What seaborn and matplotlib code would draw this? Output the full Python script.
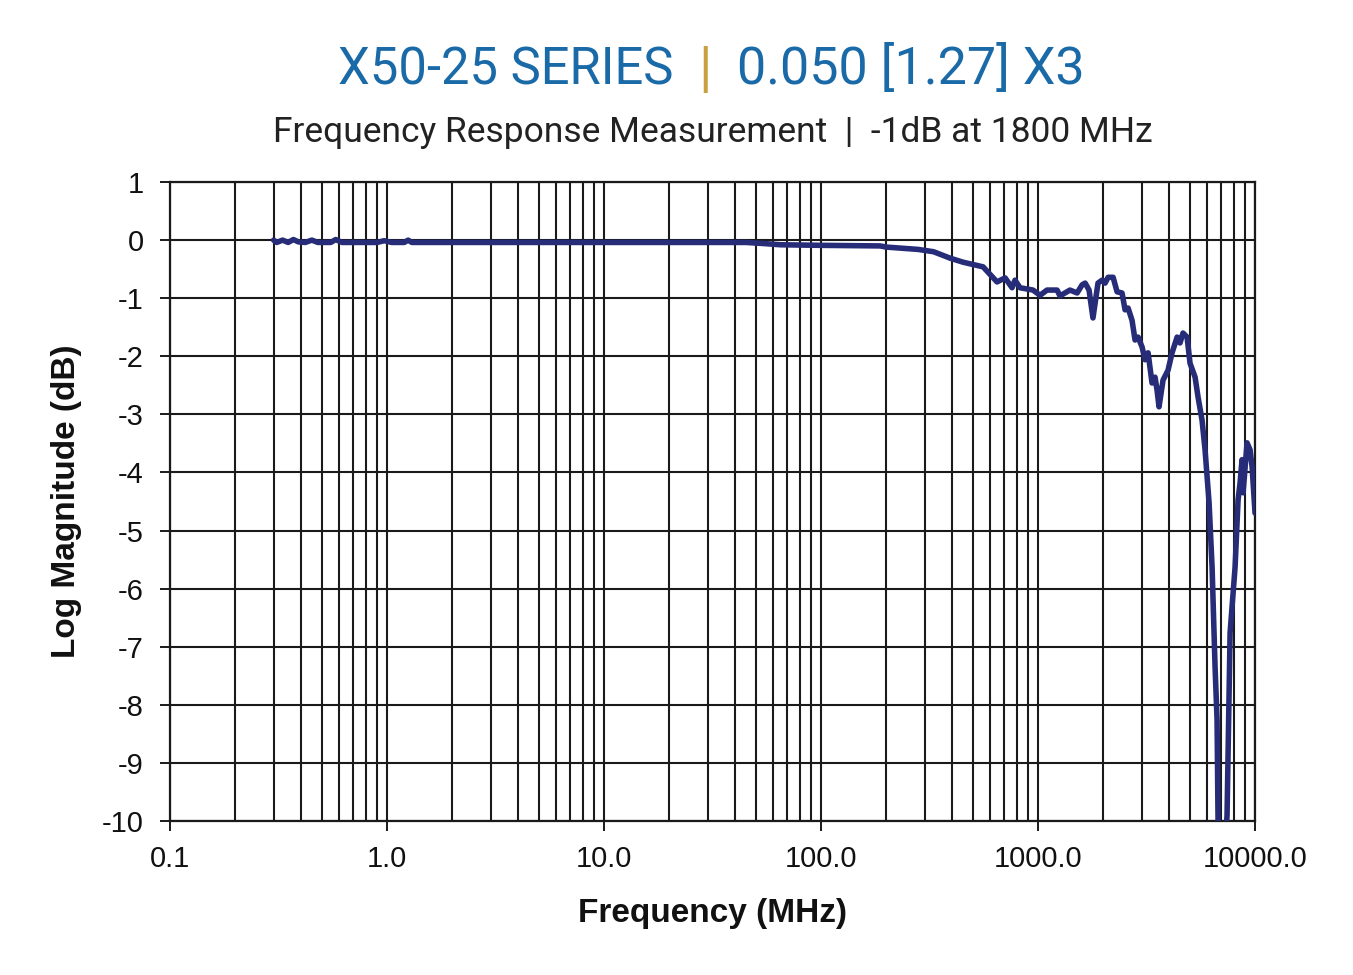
import numpy as np
import pandas as pd
import matplotlib
matplotlib.use('Agg')
import matplotlib.pyplot as plt
import seaborn as sns
from matplotlib.ticker import FixedLocator, LogLocator, NullFormatter

# frequency in MHz, magnitude in dB
freq_mhz = [0.30, 0.31, 0.33, 0.35, 0.37, 0.39, 0.42, 0.45, 0.48, 0.55, 0.58, 0.62,
            0.90, 0.97, 1.05, 1.20, 1.25, 1.30, 2.0, 10.0, 45.0, 55.0, 65.0, 100.0,
            187.0, 200.0, 280.0, 330.0, 393.0, 451.0, 558.0, 647.0, 705.0, 759.0,
            783.0, 826.0, 948.0, 1021.0, 1100.0, 1224.0, 1262.0, 1403.0, 1514.0,
            1596.0, 1648.0, 1718.0, 1791.0, 1889.0, 1972.0, 2037.0, 2103.0, 2218.0,
            2313.0, 2438.0, 2518.0, 2600.0, 2711.0, 2799.0, 2891.0, 3015.0, 3113.0,
            3214.0, 3352.0, 3461.0, 3534.0, 3610.0, 3767.0, 3972.0, 4146.0, 4374.0,
            4511.0, 4656.0, 4862.0, 5017.0, 5293.0, 5461.0, 5699.0, 5883.0, 6140.0,
            6339.0, 6543.0, 6683.0, 6752.0, 7046.0, 7275.0, 7430.0, 7674.0, 8091.0,
            8353.0, 8531.0, 8712.0, 8810.0, 9188.0, 9484.0, 9690.0, 10000.0]
mag_db = [0.00, -0.04, 0.00, -0.04, 0.01, -0.03, -0.04, 0.00, -0.04, -0.04, 0.01, -0.04,
          -0.04, -0.01, -0.04, -0.04, 0.00, -0.04, -0.04, -0.04, -0.04, -0.06, -0.08, -0.09,
          -0.10, -0.12, -0.16, -0.20, -0.31, -0.38, -0.46, -0.72, -0.65, -0.82,
          -0.69, -0.82, -0.86, -0.95, -0.86, -0.86, -0.96, -0.86, -0.91,
          -0.77, -0.74, -0.86, -1.34, -0.74, -0.69, -0.74, -0.64, -0.64,
          -0.89, -0.91, -1.20, -1.17, -1.38, -1.72, -1.67, -1.84, -2.06,
          -1.94, -2.46, -2.36, -2.58, -2.87, -2.41, -2.24, -1.94, -1.67,
          -1.77, -1.60, -1.67, -2.12, -2.36, -2.70, -3.10, -3.61, -4.52,
          -5.63, -7.35, -8.26, -9.98, -11.0, -10.5, -9.9, -6.76, -5.63,
          -4.47, -4.18, -3.78, -4.35, -3.49, -3.61, -3.90, -4.70]

x_ticks = [0.1, 1, 10, 100, 1000, 10000]
x_tick_labels = ['0.1', '1.0', '10.0', '100.0', '1000.0', '10000.0']
y_ticks = list(range(1, -11, -1))
y_tick_labels = [str(v) for v in y_ticks]

sns.set_theme(style='white')
plt.rcParams['font.family'] = ['Liberation Sans', 'DejaVu Sans']
plt.rcParams['axes.unicode_minus'] = False

df = pd.DataFrame({'freq': freq_mhz, 'mag': mag_db})

fig = plt.figure(figsize=(13.53, 9.75), dpi=100)
ax = fig.add_axes([0.1257, 0.158, 0.8019, 0.6553])

sns.lineplot(data=df, x='freq', y='mag', ax=ax, color='#272c78', linewidth=4,
             sort=False, estimator=None, zorder=5)

ax.set_xscale('log')
ax.set_xlim(0.1, 10000)
ax.set_ylim(-10, 1)
ax.xaxis.set_major_locator(FixedLocator(x_ticks))
ax.set_xticklabels(x_tick_labels)
ax.xaxis.set_minor_locator(LogLocator(base=10, subs=np.arange(2, 10)))
ax.xaxis.set_minor_formatter(NullFormatter())
ax.set_yticks(y_ticks)
ax.set_yticklabels(y_tick_labels)

grid_kw = dict(color='#1a1a1a', linewidth=1.5)
ax.grid(True, which='major', axis='both', **grid_kw)
ax.grid(True, which='minor', axis='x', **grid_kw)
for s in ax.spines.values():
    s.set_color('#1a1a1a')
    s.set_linewidth(1.6)

ax.tick_params(axis='both', which='major', direction='out', length=7, width=1.4,
               color='#1a1a1a', labelsize=21, labelcolor='#111111', left=True, bottom=True)
ax.tick_params(axis='y', pad=12)
ax.tick_params(axis='x', pad=10)
ax.tick_params(axis='x', which='minor', bottom=False)

ax.set_xlabel('Frequency (MHz)', fontsize=24, fontweight='bold', color='#111111', labelpad=18)
ax.set_ylabel('Log Magnitude (dB)', fontsize=24, fontweight='bold', color='#111111', labelpad=14)

narrow = ['Liberation Sans Narrow', 'DejaVu Sans Condensed', 'Roboto', 'DejaVu Sans']
blue = '#1a6aa8'
fig.text(673 / 1353, 0.928, 'X50-25 SERIES', ha='right', va='center', fontsize=36.5,
         color=blue, family=narrow)
fig.text(705 / 1353, 0.928, '|', ha='center', va='center', fontsize=40,
         color='#c8a040', family=narrow)
fig.text(737 / 1353, 0.928, '0.050 [1.27] X3', ha='left', va='center', fontsize=37.5,
         color=blue, family=narrow)
fig.text(713 / 1353, 0.864, 'Frequency Response Measurement  |  -1dB at 1800 MHz',
         ha='center', va='center', fontsize=25.5, color='#222222', family=narrow)

fig.savefig('out.png', dpi=100, facecolor='white')
